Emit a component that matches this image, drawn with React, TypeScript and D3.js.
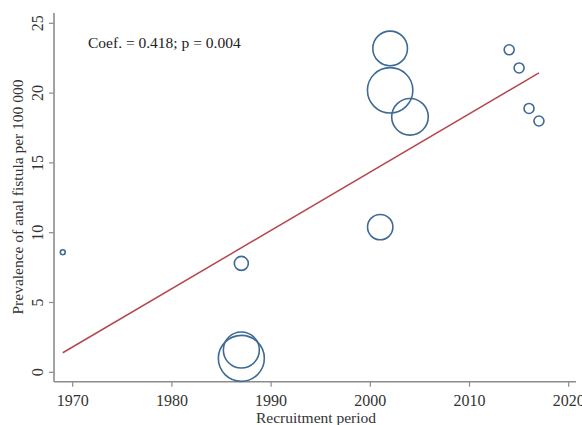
import React, { useEffect, useRef } from 'react';
import * as d3 from 'd3';

// study recruitment year, prevalence, study weight (bubble area)
const years = [1969, 1987, 1987, 1987, 2001, 2002, 2002, 2004, 2014, 2015, 2016, 2017];
const prevalence = [8.6, 7.8, 1.0, 1.6, 10.4, 23.2, 20.2, 18.3, 23.1, 21.8, 18.9, 18.0];
const weights = [6, 49, 529, 324, 161, 300, 515, 335, 25, 25, 25, 25];

// fitted meta-regression line endpoints
const fitYears = [1969, 2017];
const fitValues = [1.4, 21.45];

const xTicks = [1970, 1980, 1990, 2000, 2010, 2020];
const yTicks = [0, 5, 10, 15, 20, 25];

const W = 582;
const H = 425;
const FONT = '"Liberation Serif", serif';

export default function App() {
  const svgRef = useRef<SVGSVGElement | null>(null);

  useEffect(() => {
    if (!svgRef.current) return;
    const svg = d3.select(svgRef.current);
    svg.selectAll('*').remove();

    const x = d3.scaleLinear().domain([1970, 2020]).range([72.7, 568.7]);
    const y = d3.scaleLinear().domain([0, 25]).range([372.3, 23.3]);
    const r = d3.scaleSqrt().domain([0, d3.max(weights)!]).range([0, 23]);

    const axisLeft = 54;
    const axisBottom = 381.7;
    const axisColor = '#8c8c8c';

    // axis lines
    svg.append('line')
      .attr('x1', axisLeft).attr('x2', axisLeft)
      .attr('y1', 13).attr('y2', axisBottom)
      .attr('stroke', axisColor).attr('stroke-width', 1.6);
    svg.append('line')
      .attr('x1', axisLeft).attr('x2', 576)
      .attr('y1', axisBottom).attr('y2', axisBottom)
      .attr('stroke', axisColor).attr('stroke-width', 1.6);

    // y ticks
    const yt = svg.append('g');
    yTicks.forEach(t => {
      yt.append('line')
        .attr('x1', axisLeft - 5).attr('x2', axisLeft)
        .attr('y1', y(t)).attr('y2', y(t))
        .attr('stroke', axisColor).attr('stroke-width', 1.2);
      yt.append('text')
        .attr('transform', `translate(43, ${y(t)}) rotate(-90)`)
        .attr('text-anchor', 'middle')
        .attr('font-family', FONT)
        .attr('font-size', 16)
        .attr('fill', '#333')
        .text(t);
    });

    // x ticks
    const xt = svg.append('g');
    xTicks.forEach(t => {
      xt.append('line')
        .attr('x1', x(t)).attr('x2', x(t))
        .attr('y1', axisBottom).attr('y2', axisBottom + 5)
        .attr('stroke', axisColor).attr('stroke-width', 1.2);
      xt.append('text')
        .attr('x', x(t)).attr('y', 406)
        .attr('text-anchor', 'middle')
        .attr('font-family', FONT)
        .attr('font-size', 16)
        .attr('fill', '#333')
        .text(t);
    });

    // axis titles
    svg.append('text')
      .attr('x', 316).attr('y', 423)
      .attr('text-anchor', 'middle')
      .attr('font-family', FONT)
      .attr('font-size', 15.5)
      .attr('fill', '#333')
      .text('Recruitment period');

    svg.append('text')
      .attr('transform', 'translate(23, 197) rotate(-90)')
      .attr('text-anchor', 'middle')
      .attr('font-family', FONT)
      .attr('font-size', 15.5)
      .attr('fill', '#333')
      .text('Prevalence of anal fistula per 100 000');

    // regression line
    const line = d3.line<number>()
      .x((_, i) => x(fitYears[i]))
      .y(d => y(d));
    svg.append('path')
      .attr('d', line(fitValues)!)
      .attr('fill', 'none')
      .attr('stroke', '#b5474e')
      .attr('stroke-width', 1.5);

    // bubbles
    svg.append('g')
      .selectAll('circle')
      .data(years)
      .enter()
      .append('circle')
      .attr('cx', d => x(d))
      .attr('cy', (_, i) => y(prevalence[i]))
      .attr('r', (_, i) => r(weights[i]))
      .attr('fill', 'none')
      .attr('stroke', '#3f6a94')
      .attr('stroke-width', 1.6);

    // annotation
    svg.append('text')
      .attr('x', 88).attr('y', 48)
      .attr('font-family', FONT)
      .attr('font-size', 15.5)
      .attr('fill', '#222')
      .text('Coef. = 0.418; p = 0.004');
  }, []);

  return (
    <svg
      ref={svgRef}
      width={W}
      height={H}
      style={{ position: 'absolute', left: 0, top: 0, background: '#fff' }}
    />
  );
}
